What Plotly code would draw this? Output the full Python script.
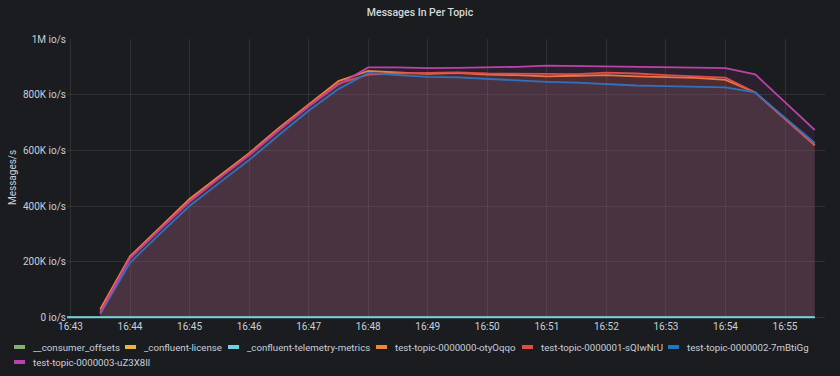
import plotly.graph_objects as go

# ---------------- data ----------------
DAY = "2021-06-01 "
zero_times = [DAY + t for t in [
    "16:42:30", "16:43:00", "16:43:30", "16:44:00", "16:44:30", "16:45:00", "16:45:30",
    "16:46:00", "16:46:30", "16:47:00", "16:47:30", "16:48:00", "16:48:30", "16:49:00",
    "16:49:30", "16:50:00", "16:50:30", "16:51:00", "16:51:30", "16:52:00", "16:52:30",
    "16:53:00", "16:53:30", "16:54:00", "16:54:30", "16:55:00", "16:55:30"]]
topic_times = zero_times[2:]

consumer_offsets = [0] * len(zero_times)
confluent_license = [0] * len(zero_times)
confluent_telemetry = [0] * len(zero_times)

# values in K io/s
topic0 = [29, 219, 322, 425, 508, 590, 680, 765, 849, 885, 880, 875, 878, 872, 870,
          866, 868, 870, 866, 862, 860, 853, 808, 713, 619]
topic1 = [20, 214, 317, 418, 502, 585, 675, 760, 840, 872, 876, 878, 880, 876, 876,
          874, 874, 879, 876, 870, 866, 861, 808, 712, 617]
topic2 = [12, 196, 300, 400, 483, 565, 655, 742, 820, 878, 870, 864, 862, 856, 851,
          846, 843, 838, 833, 831, 829, 826, 808, 718, 627]
topic3 = [14, 212, 315, 415, 500, 582, 672, 757, 836, 898, 898, 895, 896, 897, 900,
          904, 903, 902, 900, 898, 897, 895, 873, 773, 673]

names = ["__consumer_offsets", "_confluent-license", "_confluent-telemetry-metrics",
         "test-topic-0000000-otyOqqo", "test-topic-0000001-sQIwNrU",
         "test-topic-0000002-7mBtiGg", "test-topic-0000003-uZ3X8Il"]
colors = ["#7EB26D", "#EAB839", "#6ED0E0", "#EF843C", "#E24D42", "#1F78C1", "#BA43A9"]

y_tickvals = [0, 200000, 400000, 600000, 800000, 1000000]
y_ticktext = ["0 io/s", "200K io/s", "400K io/s", "600K io/s", "800K io/s", "1M io/s"]

# ---------------- figure ----------------
BG = "#1b1c20"
TXT = "#c7d0d9"
FONT = "Roboto"

L, R, T, B = 67, 15, 39, 57
W = 840 - L - R
H = 376 - T - B


def hex_rgba(h, a):
    h = h.lstrip("#")
    return "rgba(%d,%d,%d,%s)" % (int(h[0:2], 16), int(h[2:4], 16), int(h[4:6], 16), a)


fig = go.Figure()
for j, ys in enumerate([topic0, topic1, topic2, topic3]):
    i = j + 3
    fig.add_trace(go.Scatter(x=topic_times, y=[v * 1000 for v in ys], mode="lines",
                             name=names[i], line=dict(color=colors[i], width=1.8),
                             fill="tozeroy", fillcolor=hex_rgba(colors[i], 0.1)))
zero_series = [consumer_offsets, confluent_license, confluent_telemetry]
for i in [0, 1, 2]:
    fig.add_trace(go.Scatter(x=zero_times, y=zero_series[i], mode="lines", name=names[i],
                             line=dict(color=colors[i], width=2 if i == 2 else 1.2)))

fig.update_layout(
    width=840, height=376,
    margin=dict(l=L, r=R, t=T, b=B, pad=0),
    paper_bgcolor=BG, plot_bgcolor=BG,
    font=dict(family=FONT, color=TXT, size=10),
    showlegend=False,
    title=dict(text="Messages In Per Topic", x=0.5, xanchor="center",
               y=1 - 12 / 376, yanchor="middle",
               font=dict(family=FONT, size=10.5, color="#d8d9da", weight=500)),
    xaxis=dict(type="date",
               range=[DAY + "16:42:56.5", DAY + "16:55:40.3"],
               dtick=60000, tickformat="%H:%M",
               showgrid=True, gridcolor="rgba(255,255,255,0.09)", gridwidth=1,
               zeroline=False, showline=False, ticks="",
               tickfont=dict(size=10, color=TXT)),
    yaxis=dict(range=[-6000, 1000000], tickvals=y_tickvals, ticktext=y_ticktext,
               showgrid=True, gridcolor="rgba(255,255,255,0.09)", gridwidth=1,
               zeroline=False, showline=False, ticks="",
               tickfont=dict(size=10, color=TXT)),
)

# y axis title
fig.add_annotation(text="Messages/s", xref="paper", yref="paper",
                   x=(12 - L) / W, y=(376 - B - 178) / H, textangle=-90,
                   showarrow=False, xanchor="center", yanchor="middle",
                   font=dict(family=FONT, size=10, color=TXT))

# legend (drawn as swatches + text)
legend_pos = [(14, 347), (125, 347), (228, 347), (376, 347), (522, 347), (668, 347), (14, 362)]


def px(xp):
    return (xp - L) / W


def py(yp):
    return (376 - B - yp) / H


for (lx, ly), name, col in zip(legend_pos, names, colors):
    fig.add_shape(type="rect", xref="paper", yref="paper",
                  x0=px(lx), x1=px(lx + 11), y0=py(ly + 2), y1=py(ly - 2),
                  fillcolor=col, line=dict(width=0))
    fig.add_annotation(text=name, xref="paper", yref="paper",
                       x=px(lx + 17), y=py(ly), showarrow=False,
                       xanchor="left", yanchor="middle",
                       font=dict(family=FONT, size=9.7, color=TXT))

fig.write_html("out.html", config={"displayModeBar": False},
               post_script="document.body.style.margin='0';document.body.style.background='%s';" % BG)
